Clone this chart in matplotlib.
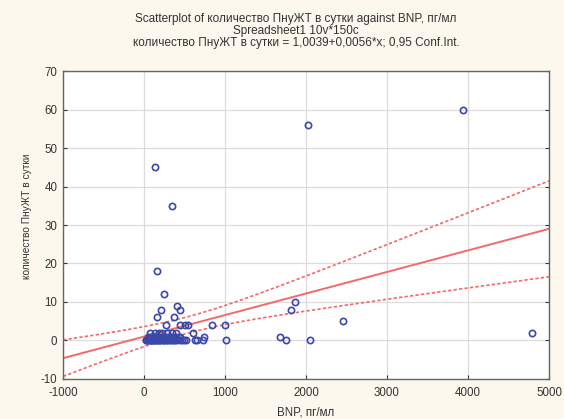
import numpy as np
import matplotlib
matplotlib.use("Agg")
from matplotlib import pyplot as plt

plt.rcParams['font.family'] = ['Liberation Sans', 'DejaVu Sans']
plt.rcParams['axes.unicode_minus'] = False

# Точки (BNP, пг/мл ; количество ПнуЖТ в сутки)
bnp_high = [130, 340, 157, 2020, 3940, 4790, 250, 404, 450, 210, 160, 365,
            267, 443, 504, 545, 607, 845, 1000, 1017, 745, 627, 656, 730,
            1673, 1747, 1816, 1865, 2050, 2460]
pvt_high = [45, 35, 18, 56, 60, 2, 12, 9, 8, 8, 6, 6,
            4, 4, 4, 4, 2, 4, 4, 0, 1, 0, 0, 0,
            1, 0, 8, 10, 0, 5]

bnp_cl0 = [20, 30, 40, 50, 60, 75, 90, 100, 110, 120, 130, 150, 165, 170,
           190, 200, 210, 230, 245, 250, 270, 285, 300, 315, 330, 360, 370,
           380, 410, 440, 470, 500, 520]
pvt_cl0 = [0] * len(bnp_cl0)
bnp_cl1 = [50, 80, 100, 120, 160, 200, 220, 240, 280, 320, 340, 360, 400,
           430, 450]
pvt_cl1 = [1] * len(bnp_cl1)
bnp_cl2 = [70, 140, 180, 220, 290, 340, 390]
pvt_cl2 = [2] * len(bnp_cl2)

bnp = np.array(bnp_high + bnp_cl0 + bnp_cl1 + bnp_cl2, dtype=float)
pvt = np.array(pvt_high + pvt_cl0 + pvt_cl1 + pvt_cl2, dtype=float)

# коэффициенты из заголовка
b0, b1 = 1.0039, 0.0056

# доверительный интервал 0,95
n = len(bnp)
resid = pvt - (b0 + b1 * bnp)
s = np.sqrt(np.sum(resid ** 2) / (n - 2))
xbar = bnp.mean()
sxx = np.sum((bnp - xbar) ** 2)
t = 1.99
xx = np.linspace(-1000, 5000, 200)
yy = b0 + b1 * xx
hw = t * s * np.sqrt(1 / n + (xx - xbar) ** 2 / sxx)

fig = plt.figure(figsize=(5.64, 4.19), dpi=100)
fig.patch.set_facecolor('#fcf8ee')
ax = fig.add_axes([0.1117, 0.0955, 0.8617, 0.735])
ax.set_facecolor('white')

ax.grid(True, color='#dcdcdc', lw=0.9)
ax.set_axisbelow(True)

red = '#f26a6a'
ax.plot(xx, yy, color=red, lw=1.4)
ax.plot(xx, yy + hw, color=red, lw=1.2, ls=(0, (2, 1.3)))
ax.plot(xx, yy - hw, color=red, lw=1.2, ls=(0, (2, 1.3)))

ax.plot(bnp, pvt, 'o', ms=4.5, mfc='none', mec='#3a48a8', mew=1.2)

ax.set_xlim(-1000, 5000)
ax.set_ylim(-10, 70)
ax.set_xticks(np.arange(-1000, 5001, 1000))
ax.set_yticks(np.arange(-10, 71, 10))
ax.tick_params(direction='in', length=3, labelsize=8.3, colors='#333333',
               right=True, top=False, labelcolor='#333333')
ax.tick_params(axis='x', pad=6)
ax.tick_params(axis='y', pad=4)
for sp in ax.spines.values():
    sp.set_color('#666666')
    sp.set_linewidth(1.0)

ax.set_xlabel('BNP, пг/мл', fontsize=8.3, color='#333333', labelpad=5)
ax.set_ylabel('количество ПнуЖТ в сутки', fontsize=7.3, color='#333333')
ax.yaxis.set_label_coords(-0.064, 0.53)

cx = 296 / 564
fig.text(cx, 1 - 19 / 419, 'Scatterplot of количество ПнуЖТ в сутки against BNP, пг/мл',
         ha='center', va='center', fontsize=8.5, color='#333333')
fig.text(cx, 1 - 31 / 419, 'Spreadsheet1 10v*150c',
         ha='center', va='center', fontsize=8.5, color='#333333')
fig.text(cx, 1 - 43 / 419, 'количество ПнуЖТ в сутки = 1,0039+0,0056*x; 0,95 Conf.Int.',
         ha='center', va='center', fontsize=8.5, color='#333333')

plt.savefig('out.png', dpi=100, facecolor=fig.get_facecolor())
